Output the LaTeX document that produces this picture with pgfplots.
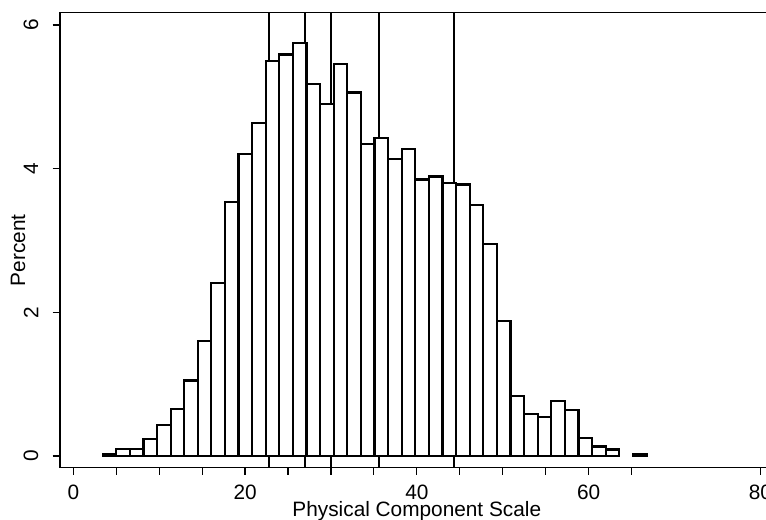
\documentclass[border=0pt]{standalone}
\usepackage{fontspec}
\setmainfont{Liberation Sans}
\usepackage{pgfplots}
\pgfplotsset{compat=1.18}

\begin{document}
\begin{tikzpicture}
\begin{axis}[
  scale only axis,
  width=358.6pt, height=227.35pt,
  xmin=-1.55, xmax=82, ymin=-0.157, ymax=6.177,
  axis line style={line width=0.6pt},
  tick align=outside, xtick pos=bottom, ytick pos=left,
  major tick length=3.75pt, minor tick length=3.75pt,
  every tick/.style={black, line width=0.6pt},
  xtick={0,20,40,60,80},
  minor xtick={5,10,15,25,30,35,45,50,55,65},
  ytick={0,2,4,6},
  tick label style={font=\fontsize{10.4}{12}\selectfont},
  /pgf/number format/assume math mode=true,
  xticklabel style={anchor=base, yshift=-12.5pt},
  yticklabel style={rotate=90, anchor=center, yshift=10.75pt},
  xlabel={Physical Component Scale},
  ylabel={Percent},
  every axis x label/.style={at={(rel axis cs:0.4973,0)}, anchor=base, yshift=-24.85pt, font=\fontsize{10.4}{12}\selectfont},
  every axis y label/.style={at={(rel axis cs:0,0.477)}, rotate=90, anchor=center, yshift=21pt, font=\fontsize{10.4}{12}\selectfont},
]
% percentile lines, drawn first so the bars cover them
\addplot[black, line width=0.95pt] coordinates {(22.74,-0.3) (22.74,6.5)};
\addplot[black, line width=0.95pt] coordinates {(26.93,-0.3) (26.93,6.5)};
\addplot[black, line width=0.95pt] coordinates {(29.96,-0.3) (29.96,6.5)};
\addplot[black, line width=0.95pt] coordinates {(35.61,-0.3) (35.61,6.5)};
\addplot[black, line width=0.95pt] coordinates {(44.29,-0.3) (44.29,6.5)};

% histogram
\addplot[ybar, bar width=1.5834, fill=white, draw=black, line width=1.1pt] coordinates {
  (4.202,0.02) (5.785,0.10) (7.368,0.10) (8.952,0.23) (10.535,0.43)
  (12.119,0.65) (13.702,1.05) (15.285,1.60) (16.869,2.41) (18.452,3.53)
  (20.035,4.20) (21.619,4.64) (23.202,5.50) (24.785,5.59) (26.369,5.75)
  (27.952,5.18) (29.536,4.90) (31.119,5.46) (32.702,5.06) (34.286,4.34)
  (35.869,4.43) (37.452,4.13) (39.036,4.27) (40.619,3.85) (42.203,3.89)
  (43.786,3.80) (45.369,3.78) (46.953,3.49) (48.536,2.95) (50.119,1.88)
  (51.703,0.83) (53.286,0.58) (54.870,0.54) (56.453,0.77) (58.036,0.64)
  (59.620,0.25) (61.203,0.13) (62.786,0.09) (65.953,0.03)
};
\coordinate (SW) at (rel axis cs:0,0);
\end{axis}
\pgfresetboundingbox
\path[use as bounding box] ([shift={(-30pt,-26pt)}]SW) rectangle ([shift={(352.85pt,233.5pt)}]SW);
\end{tikzpicture}
\end{document}
